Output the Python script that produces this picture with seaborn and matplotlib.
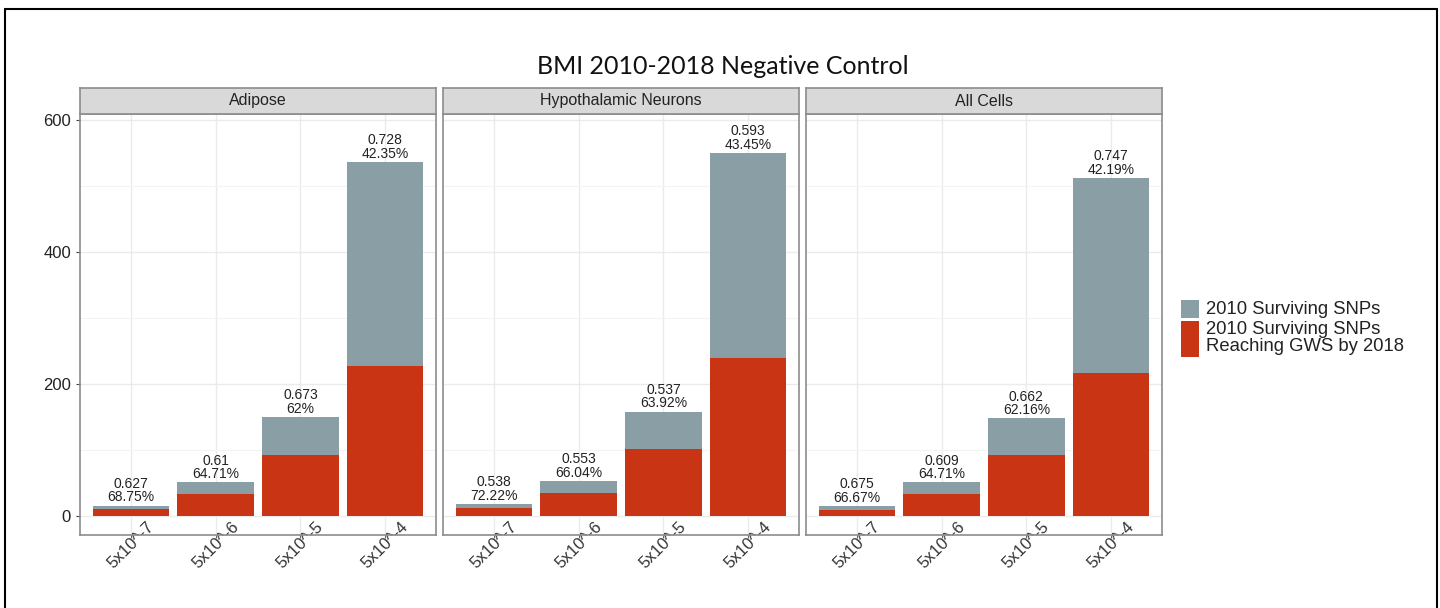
import matplotlib
matplotlib.use("Agg")
import matplotlib.pyplot as plt
from matplotlib.patches import Rectangle
from matplotlib.lines import Line2D
from matplotlib.ticker import MultipleLocator
import pandas as pd
import seaborn as sns

sns.set_style("white")
plt.rcParams["font.family"] = ["Liberation Sans", "DejaVu Sans"]

GREY = "#8a9ea5"
RED = "#c93414"

thresholds = ["5x10^-7", "5x10^-6", "5x10^-5", "5x10^-4"]
panels = ["Adipose", "Hypothalamic Neurons", "All Cells"]
surviving = {
    "Adipose": [16, 51, 150, 536],
    "Hypothalamic Neurons": [18, 53, 158, 550],
    "All Cells": [15, 51, 148, 512],
}
reaching = {
    "Adipose": [11, 33, 93, 227],
    "Hypothalamic Neurons": [13, 35, 101, 239],
    "All Cells": [10, 33, 92, 216],
}
ratio = {
    "Adipose": ["0.627", "0.61", "0.673", "0.728"],
    "Hypothalamic Neurons": ["0.538", "0.553", "0.537", "0.593"],
    "All Cells": ["0.675", "0.609", "0.662", "0.747"],
}

W, H = 1440, 608
fig = plt.figure(figsize=(W / 100, H / 100), dpi=100)

lefts = [80, 443, 806]
pw = 356
top, bottom = 114, 535
strip_h = 26

for i, (name, left) in enumerate(zip(panels, lefts)):
    ax = fig.add_axes([left / W, (H - bottom) / H, pw / W, (bottom - top) / H])
    df = pd.DataFrame({"threshold": thresholds, "total": surviving[name],
                       "gws": reaching[name]})
    sns.barplot(data=df, x="threshold", y="total", color=GREY, saturation=1,
                width=0.9, ax=ax, zorder=3, linewidth=0, edgecolor="none")
    sns.barplot(data=df, x="threshold", y="gws", color=RED, saturation=1,
                width=0.9, ax=ax, zorder=4, linewidth=0, edgecolor="none")
    for j, (t, g, r) in enumerate(zip(df["total"], df["gws"], ratio[name])):
        pct = f"{round(g / t * 100, 2):g}%"
        ax.text(j, t + 2, f"{r}\n{pct}", ha="center", va="bottom", fontsize=10,
                color="#222222", linespacing=0.95, zorder=5)
    ax.set_xlim(-0.6, 3.6)
    ax.set_ylim(-28.6, 609)
    ax.yaxis.set_major_locator(MultipleLocator(200))
    ax.yaxis.set_minor_locator(MultipleLocator(100))
    ax.grid(True, which="major", color="#ebebeb", linewidth=1.0, zorder=0)
    ax.grid(True, which="minor", axis="y", color="#f3f3f3", linewidth=0.8, zorder=0)
    ax.set_axisbelow(True)
    ax.set_xlabel("")
    ax.set_ylabel("")
    for s in ax.spines.values():
        s.set_color("#8c8c8c")
        s.set_linewidth(1.2)
    ax.tick_params(axis="x", length=2.2, pad=5, color="#666666", labelsize=12,
                   labelcolor="#333333", direction="out", bottom=True)
    ax.set_xticks(range(len(thresholds)))
    ax.set_xticklabels(thresholds, rotation=45, ha="center", va="center")
    if i == 0:
        ax.tick_params(axis="y", which="major", length=3, color="#444444",
                       labelsize=12, labelcolor="#222222", left=True)
        ax.tick_params(axis="y", which="minor", length=0)
    else:
        ax.tick_params(axis="y", which="both", left=False, labelleft=False)

    sax = fig.add_axes([left / W, (H - top) / H, pw / W, strip_h / H])
    sax.set_facecolor("#d9d9d9")
    sax.set_xticks([])
    sax.set_yticks([])
    for s in sax.spines.values():
        s.set_color("#8c8c8c")
        s.set_linewidth(1.2)
    sax.text(0.5, 0.5, name, ha="center", va="center", fontsize=11.5,
             color="#222222", transform=sax.transAxes)

fig.text(723 / W, (H - 66) / H, "BMI 2010-2018 Negative Control", ha="center",
         va="center", fontsize=18, family=["Lato", "DejaVu Sans"], color="#111111")

# legend keys
fig.add_artist(Rectangle((1181 / W, (H - 318) / H), 18 / W, 18 / H,
                         transform=fig.transFigure, facecolor=GREY, edgecolor="none"))
fig.add_artist(Rectangle((1181 / W, (H - 357) / H), 18 / W, 36 / H,
                         transform=fig.transFigure, facecolor=RED, edgecolor="none"))
fig.text(1206 / W, (H - 310) / H, "2010 Surviving SNPs", ha="left", va="center",
         fontsize=13.3, color="#222222")
fig.text(1206 / W, (H - 338) / H, "2010 Surviving SNPs\nReaching GWS by 2018",
         ha="left", va="center", fontsize=13.3, color="#222222", linespacing=0.98)

# outer frame
for xs, ys in [([5, 1437], [9, 9]), ([5, 5], [9, 608]), ([1437, 1437], [9, 608])]:
    fig.add_artist(Line2D([x / W for x in xs], [(H - y) / H for y in ys],
                          transform=fig.transFigure, color="black", linewidth=1.5))

fig.savefig("out.png", dpi=100)
